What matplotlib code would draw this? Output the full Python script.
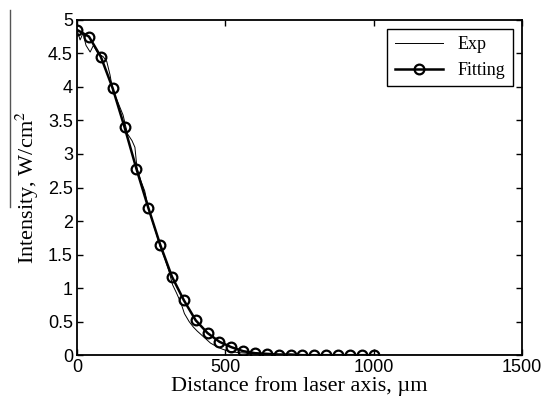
import matplotlib
matplotlib.use("Agg")
import matplotlib.pyplot as plt
from matplotlib.lines import Line2D

plt.rcParams['mathtext.fontset'] = 'stix'

# fitting curve (markers), every 40 um
fit_x = [0, 40, 80, 120, 160, 200, 240, 280, 320, 360, 400, 440, 480, 520,
         560, 600, 640, 680, 720, 760, 800, 840, 880, 920, 960, 1000]
fit_y = [4.85, 4.75, 4.45, 3.98, 3.40, 2.78, 2.20, 1.65, 1.17, 0.82, 0.52, 0.33, 0.20, 0.12,
         0.06, 0.03, 0.02, 0.01, 0.01, 0.0, 0.0, 0.0, 0.0, 0.0, 0.0, 0.0]

# measured profile (thin noisy line)
exp_x = [0, 10, 20, 30, 44, 55, 70, 88, 100, 111, 121, 135, 155, 170, 185, 195, 202,
         215, 228, 240, 255, 268, 280, 295, 310, 322, 335, 350, 362, 378, 392, 405,
         420, 435, 450, 470, 490, 510, 540, 570, 600, 650, 700, 800, 900, 1000,
         1100, 1200, 1300, 1400, 1500]
exp_y = [4.85, 4.70, 4.80, 4.62, 4.52, 4.62, 4.50, 4.45, 4.38, 4.18, 3.93, 3.80, 3.58,
         3.30, 3.20, 3.10, 2.79, 2.60, 2.45, 2.20, 1.98, 1.80, 1.62, 1.45, 1.25, 1.05,
         0.93, 0.78, 0.62, 0.50, 0.42, 0.36, 0.30, 0.24, 0.18, 0.13, 0.09, 0.06, 0.04,
         0.03, 0.02, 0.01, 0.01, 0.0, 0.0, 0.0, 0.0, 0.0, 0.0, 0.0, 0.0]

x_ticks = [0, 500, 1000, 1500]
y_ticks = [0, 0.5, 1, 1.5, 2, 2.5, 3, 3.5, 4, 4.5, 5]
y_ticklabels = ['0', '0.5', '1', '1.5', '2', '2.5', '3', '3.5', '4', '4.5', '5']

fig = plt.figure(figsize=(5.43, 4.05), dpi=100)
ax = fig.add_axes([0.142, 0.123, 0.819, 0.828])

ax.plot(exp_x, exp_y, color='black', linewidth=0.7, label='Exp')
ax.plot(fit_x, fit_y, color='black', linewidth=1.8, marker='o', markersize=7,
        markerfacecolor='none', markeredgewidth=1.6, label='Fitting')

ax.set_xlim(0, 1500)
ax.set_ylim(0, 5)
ax.set_xticks(x_ticks)
ax.set_yticks(y_ticks)
ax.set_yticklabels(y_ticklabels)
ax.tick_params(direction='in', top=True, right=True, length=4, width=1,
               labelsize=13, pad=3)
for lab in ax.get_xticklabels() + ax.get_yticklabels():
    lab.set_family('Liberation Sans')
for sp in ax.spines.values():
    sp.set_linewidth(1.3)

ax.set_xlabel('Distance from laser axis, \u00b5m', family='Liberation Serif',
              fontsize=16, labelpad=0)
ax.set_ylabel('Intensity, W/cm$^2$', family='Liberation Serif', fontsize=16,
              labelpad=5)

leg = ax.legend(loc='upper right', prop={'family': 'Liberation Serif', 'size': 13},
                fancybox=False, edgecolor='black', framealpha=1,
                handlelength=2.7, borderaxespad=0.5)
leg.get_frame().set_linewidth(1.0)

# scan edge mark at the left of the page
fig.add_artist(Line2D([10 / 543, 10 / 543], [1 - 10 / 405, 1 - 207 / 405],
                      color='#555555', linewidth=1))

fig.savefig('out.png', dpi=100)
